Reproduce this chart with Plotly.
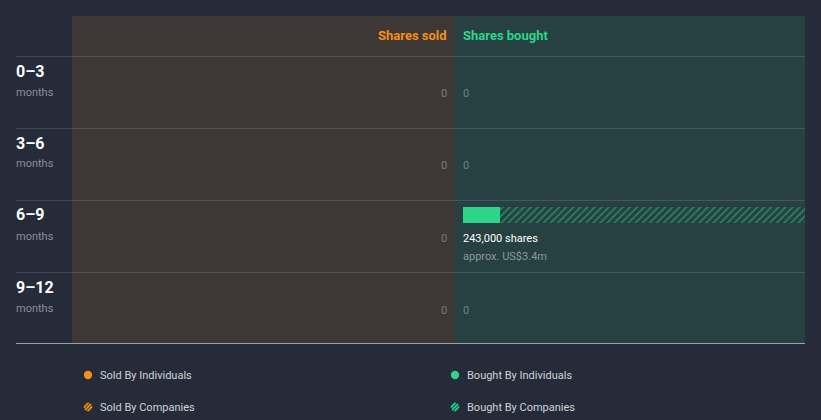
import math
import plotly.graph_objects as go

# ---- data ----
periods = ["0–3", "3–6", "6–9", "9–12"]
period_unit = "months"
sold_individuals = [0, 0, 0, 0]
sold_companies = [0, 0, 0, 0]
bought_individuals = [0, 0, 26000, 0]
bought_companies = [0, 0, 217000, 0]
bought_value_usd_m = [0, 0, 3.4, 0]
sold_value_usd_m = [0, 0, 0, 0]

W, H = 821, 420
BG = "#252b38"
SOLD_BG = "#3d3835"
BOUGHT_BG = "#274042"
ORANGE = "#f39019"
GREEN = "#2bd68a"

def px(x):
    return x / W

def py(y):
    return 1 - y / H

fig = go.Figure()

bought_tot = [a + b for a, b in zip(bought_individuals, bought_companies)]
sold_tot = [a + b for a, b in zip(sold_individuals, sold_companies)]
xmax = max(max(bought_tot), max(sold_tot), 1)
ypos = list(range(len(periods)))

# bought bars
fig.add_trace(go.Bar(y=ypos, x=bought_individuals, orientation="h", xaxis="x", yaxis="y",
                     width=0.222, offset=0.111, marker=dict(color=GREEN, line=dict(width=0)),
                     showlegend=False, hoverinfo="skip"))
fig.add_trace(go.Bar(y=ypos, x=bought_companies, orientation="h", xaxis="x", yaxis="y",
                     width=0.222, offset=0.111,
                     marker=dict(color="rgba(0,0,0,0)", line=dict(width=0),
                                 pattern=dict(shape="/", fgcolor=GREEN, bgcolor="rgba(0,0,0,0)",
                                              size=5, solidity=0.3)),
                     showlegend=False, hoverinfo="skip"))
# sold bars
fig.add_trace(go.Bar(y=ypos, x=sold_individuals, orientation="h", xaxis="x2", yaxis="y",
                     width=0.222, offset=0.111, marker=dict(color=ORANGE, line=dict(width=0)),
                     showlegend=False, hoverinfo="skip"))
fig.add_trace(go.Bar(y=ypos, x=sold_companies, orientation="h", xaxis="x2", yaxis="y",
                     width=0.222, offset=0.111,
                     marker=dict(color="rgba(0,0,0,0)", line=dict(width=0),
                                 pattern=dict(shape="/", fgcolor=ORANGE, bgcolor="rgba(0,0,0,0)",
                                              size=5, solidity=0.3)),
                     showlegend=False, hoverinfo="skip"))

shapes = []
# panels
shapes.append(dict(type="rect", xref="paper", yref="paper", x0=px(72), x1=px(455), y0=py(343), y1=py(16),
                   fillcolor=SOLD_BG, line=dict(width=0), layer="below"))
shapes.append(dict(type="rect", xref="paper", yref="paper", x0=px(455), x1=px(805), y0=py(343), y1=py(16),
                   fillcolor=BOUGHT_BG, line=dict(width=0), layer="below"))
# row lines
for yy in [56.5, 128.5, 200.5, 272.5]:
    shapes.append(dict(type="line", xref="paper", yref="paper", x0=px(16), x1=px(805), y0=py(yy), y1=py(yy),
                       line=dict(color="rgba(255,255,255,0.13)", width=1), layer="below"))
shapes.append(dict(type="line", xref="paper", yref="paper", x0=px(16), x1=px(805), y0=py(343.5), y1=py(343.5),
                   line=dict(color="#9aa0a8", width=1)))

annotations = []
FONT = "Roboto"
annotations.append(dict(xref="paper", yref="paper", x=px(449), y=py(35), text="<b>Shares sold</b>",
                        showarrow=False, xanchor="right", yanchor="middle",
                        font=dict(family=FONT, size=13, color=ORANGE)))
annotations.append(dict(xref="paper", yref="paper", x=px(461), y=py(35), text="<b>Shares bought</b>",
                        showarrow=False, xanchor="left", yanchor="middle",
                        font=dict(family=FONT, size=13, color=GREEN)))

for i, p in enumerate(periods):
    top = 56 + 72 * i
    annotations.append(dict(xref="paper", yref="paper", x=px(14), y=py(top + 15), text="<b>%s</b>" % p,
                            showarrow=False, xanchor="left", yanchor="middle",
                            font=dict(family=FONT, size=16, color="#ffffff")))
    annotations.append(dict(xref="paper", yref="paper", x=px(14), y=py(top + 36), text=period_unit,
                            showarrow=False, xanchor="left", yanchor="middle",
                            font=dict(family=FONT, size=11, color="#8c9099")))
    if sold_tot[i] == 0:
        annotations.append(dict(xref="paper", yref="paper", x=px(449), y=py(top + 38), text="0",
                                showarrow=False, xanchor="right", yanchor="middle",
                                font=dict(family=FONT, size=11, color="#7d7a78")))
    if bought_tot[i] == 0:
        annotations.append(dict(xref="paper", yref="paper", x=px(461), y=py(top + 38), text="0",
                                showarrow=False, xanchor="left", yanchor="middle",
                                font=dict(family=FONT, size=11, color="#6f8485")))
    else:
        annotations.append(dict(xref="paper", yref="paper", x=px(461), y=py(top + 38),
                                text="%s shares" % format(bought_tot[i], ","),
                                showarrow=False, xanchor="left", yanchor="middle",
                                font=dict(family=FONT, size=11, color="#ffffff")))
        annotations.append(dict(xref="paper", yref="paper", x=px(461), y=py(top + 56),
                                text="approx. US$%sm" % bought_value_usd_m[i],
                                showarrow=False, xanchor="left", yanchor="middle",
                                font=dict(family=FONT, size=11, color="#8a9a9b")))

# legend
legend_items = [("Sold By Individuals", ORANGE, "#7a4f1f", False, 88, 375),
                ("Bought By Individuals", GREEN, "#1f6b4d", False, 455, 375),
                ("Sold By Companies", ORANGE, "#6b4a22", True, 88, 407),
                ("Bought By Companies", GREEN, "#1d5e45", True, 455, 407)]
for name, col, dark, hatched, cx, cy in legend_items:
    r = 4.2
    shapes.append(dict(type="circle", xref="paper", yref="paper", x0=px(cx - r), x1=px(cx + r),
                       y0=py(cy + r), y1=py(cy - r), fillcolor=(dark if hatched else col),
                       line=dict(width=0)))
    if hatched:
        s2 = math.sqrt(0.5)
        for d in (-2.6, 0, 2.6):
            h = math.sqrt(max(r * r - d * d, 0))
            mx, my = cx + d * s2, cy + d * s2
            shapes.append(dict(type="line", xref="paper", yref="paper",
                               x0=px(mx - h * s2), y0=py(my + h * s2),
                               x1=px(mx + h * s2), y1=py(my - h * s2),
                               line=dict(color=col, width=1.4)))
    annotations.append(dict(xref="paper", yref="paper", x=px(cx + 10), y=py(cy), text=name,
                            showarrow=False, xanchor="left", yanchor="middle",
                            font=dict(family=FONT, size=11, color="#d0d3d8")))

fig.update_layout(
    width=W, height=H, margin=dict(l=0, r=0, t=0, b=0),
    paper_bgcolor=BG, plot_bgcolor="rgba(0,0,0,0)",
    barmode="stack", bargap=0,
    xaxis=dict(domain=[px(463), px(805)], range=[0, xmax], visible=False, fixedrange=True),
    xaxis2=dict(domain=[px(72), px(447)], range=[xmax, 0], visible=False, fixedrange=True,
                anchor="y"),
    yaxis=dict(domain=[py(343), py(56)], range=[len(periods), 0], visible=False, fixedrange=True),
    shapes=shapes, annotations=annotations, showlegend=False,
)

fig.write_html("out.html")
